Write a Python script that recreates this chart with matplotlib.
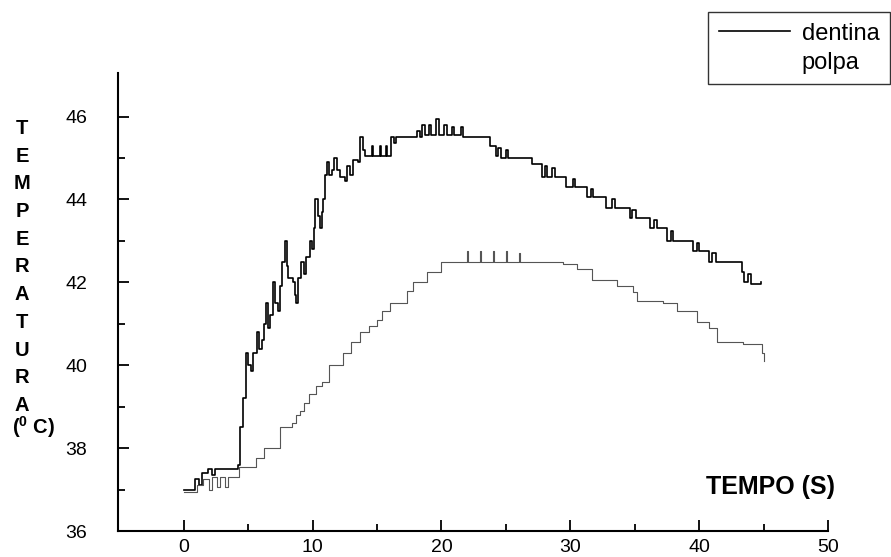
import numpy as np
import matplotlib
matplotlib.use('Agg')
import matplotlib.pyplot as plt

plt.rcParams['font.family'] = ['Liberation Sans', 'DejaVu Sans']
plt.rcParams['mathtext.fontset'] = 'custom'
plt.rcParams['mathtext.bf'] = 'Liberation Sans:bold'
plt.rcParams['mathtext.rm'] = 'Liberation Sans:bold'
plt.rcParams['mathtext.default'] = 'bf'

# dentina (curva superior)
dentina_t = [0.0, 0.9, 1.2, 1.4, 1.9, 2.2, 2.4, 4.2, 4.4, 4.6, 4.8, 5.0, 5.2, 5.4,
             5.65, 5.85, 6.05, 6.25, 6.4, 6.55, 6.7, 6.9, 7.1, 7.3, 7.45, 7.6,
             7.85, 8.0, 8.1, 8.45, 8.6, 8.75, 8.9, 9.1, 9.3, 9.5, 9.8, 9.95,
             10.1, 10.2, 10.4, 10.55, 10.7, 10.8, 11.0, 11.1, 11.3, 11.5, 11.7,
             11.9, 12.1, 12.5, 12.7, 12.9, 13.1, 13.5, 13.7, 13.9, 14.05, 14.6,
             14.7, 15.2, 15.3, 15.7, 15.8, 16.05, 16.3, 16.5, 18.1, 18.3, 18.5,
             18.7, 19.0, 19.2, 19.6, 19.8, 20.2, 20.4, 20.8, 21.0, 21.5, 21.7,
             23.8, 24.2, 24.4, 24.6, 25.0, 25.2, 27.0, 27.8, 28.0, 28.2, 28.6,
             28.8, 29.7, 30.2, 30.4, 31.3, 31.6, 31.8, 32.8, 33.2, 33.5, 34.6,
             34.8, 35.1, 36.2, 36.5, 36.7, 37.5, 37.8, 38.0, 39.5, 39.8, 40.0,
             40.8, 41.0, 41.3, 43.3, 43.5, 43.8, 44.0, 44.8]
dentina_T = [37.0, 37.25, 37.1, 37.4, 37.5, 37.35, 37.5, 37.6, 38.5, 39.2, 40.3,
             40.0, 39.85, 40.3, 40.8, 40.4, 40.6, 41.0, 41.5, 40.9, 41.2, 42.0,
             41.5, 41.3, 41.9, 42.5, 43.0, 42.4, 42.1, 42.0, 41.7, 41.5, 42.1,
             42.5, 42.2, 42.6, 43.0, 42.8, 43.3, 44.0, 43.6, 43.3, 43.7, 44.0,
             44.6, 44.9, 44.6, 44.7, 45.0, 44.7, 44.55, 44.45, 44.8, 44.6, 44.95,
             44.9, 45.5, 45.2, 45.05, 45.3, 45.05, 45.3, 45.05, 45.3, 45.05, 45.5,
             45.35, 45.5, 45.65, 45.5, 45.8, 45.55, 45.8, 45.55, 45.95, 45.55,
             45.8, 45.55, 45.75, 45.55, 45.75, 45.5, 45.3, 45.05, 45.25, 45.0,
             45.2, 45.0, 44.85, 44.55, 44.8, 44.55, 44.75, 44.55, 44.3, 44.5,
             44.3, 44.05, 44.25, 44.05, 43.8, 44.0, 43.8, 43.55, 43.75, 43.55,
             43.3, 43.5, 43.3, 43.0, 43.25, 43.0, 42.75, 42.95, 42.75, 42.5,
             42.7, 42.5, 42.25, 42.0, 42.2, 41.95, 42.0]

# polpa (curva inferior)
polpa_t = [0.0, 1.0, 1.5, 2.0, 2.2, 2.6, 2.8, 3.2, 3.4, 4.3, 5.6, 6.2, 7.5, 8.4,
           8.7, 9.0, 9.3, 9.7, 10.3, 10.7, 11.3, 12.4, 13.0, 13.7, 14.4, 15.0,
           15.4, 16.0, 17.3, 17.8, 18.9, 20.0, 22.0, 22.1, 23.0, 23.1, 24.0,
           24.1, 25.0, 25.1, 26.0, 26.1, 29.4, 30.5, 31.7, 33.6, 34.9, 35.2,
           37.2, 38.3, 39.8, 40.8, 41.4, 43.4, 44.9, 45.0]
polpa_T = [36.95, 37.1, 37.25, 37.0, 37.3, 37.05, 37.3, 37.05, 37.3, 37.55, 37.75,
           38.0, 38.5, 38.6, 38.8, 38.9, 39.1, 39.3, 39.5, 39.6, 40.0, 40.3,
           40.55, 40.8, 40.95, 41.1, 41.3, 41.5, 41.8, 42.0, 42.25, 42.5, 42.75,
           42.5, 42.75, 42.5, 42.75, 42.5, 42.75, 42.5, 42.7, 42.5, 42.45, 42.33,
           42.05, 41.9, 41.77, 41.55, 41.5, 41.3, 41.05, 40.9, 40.55, 40.5, 40.3,
           40.1]

fig = plt.figure(figsize=(8.91, 5.57), dpi=100)
ax = fig.add_axes([118 / 891, 1 - 531 / 557, (828 - 118) / 891, (531 - 73) / 557])

l1, = ax.plot(dentina_t, dentina_T, drawstyle='steps-post', color='black', lw=1.2, label='dentina')
l2, = ax.plot(polpa_t, polpa_T, drawstyle='steps-post', color='#555555', lw=0.8, label='polpa')

ax.set_xlim(-5.1, 50)
ax.set_ylim(36, 47.05)
ax.set_xticks([0, 10, 20, 30, 40, 50])
ax.set_xticks([5, 15, 25, 35, 45], minor=True)
ax.set_yticks([36, 38, 40, 42, 44, 46])
ax.set_yticks([37, 39, 41, 43, 45], minor=True)
ax.spines['top'].set_visible(False)
ax.spines['right'].set_visible(False)
ax.spines['left'].set_linewidth(1.5)
ax.spines['bottom'].set_linewidth(1.5)
ax.tick_params(which='both', direction='in', width=1.3, labelsize=14)
ax.tick_params(which='major', length=8)
ax.tick_params(which='minor', length=5)
ax.tick_params(axis='y', pad=22)
ax.tick_params(axis='x', pad=6)

# etiqueta del eje y en letras apiladas
fig.text(22 / 891, 1 - 119 / 557, '\n'.join('TEMPERATURA'), fontsize=14.5,
         fontweight='bold', ha='center', va='top', multialignment='center', linespacing=1.58)
fig.text(12 / 891, 1 - 427 / 557, '($^0$ C)', fontsize=14.5, fontweight='bold',
         ha='left', va='center')
fig.text(771 / 891, 1 - 487 / 557, 'TEMPO (S)', fontsize=18, fontweight='bold',
         ha='center', va='center')

leg = ax.legend(handles=[l1, l2], loc='upper right', bbox_to_anchor=(890 / 891, 1 - 12 / 557),
                bbox_transform=fig.transFigure, fontsize=17, frameon=True, fancybox=False,
                handlelength=3.0, handletextpad=0.5, labelspacing=0.3, borderpad=0.45,
                borderaxespad=0)
leg.get_frame().set_edgecolor('black')
leg.get_frame().set_linewidth(1.0)
leg.legend_handles[1].set_visible(False)

fig.savefig('out.png', dpi=100)
